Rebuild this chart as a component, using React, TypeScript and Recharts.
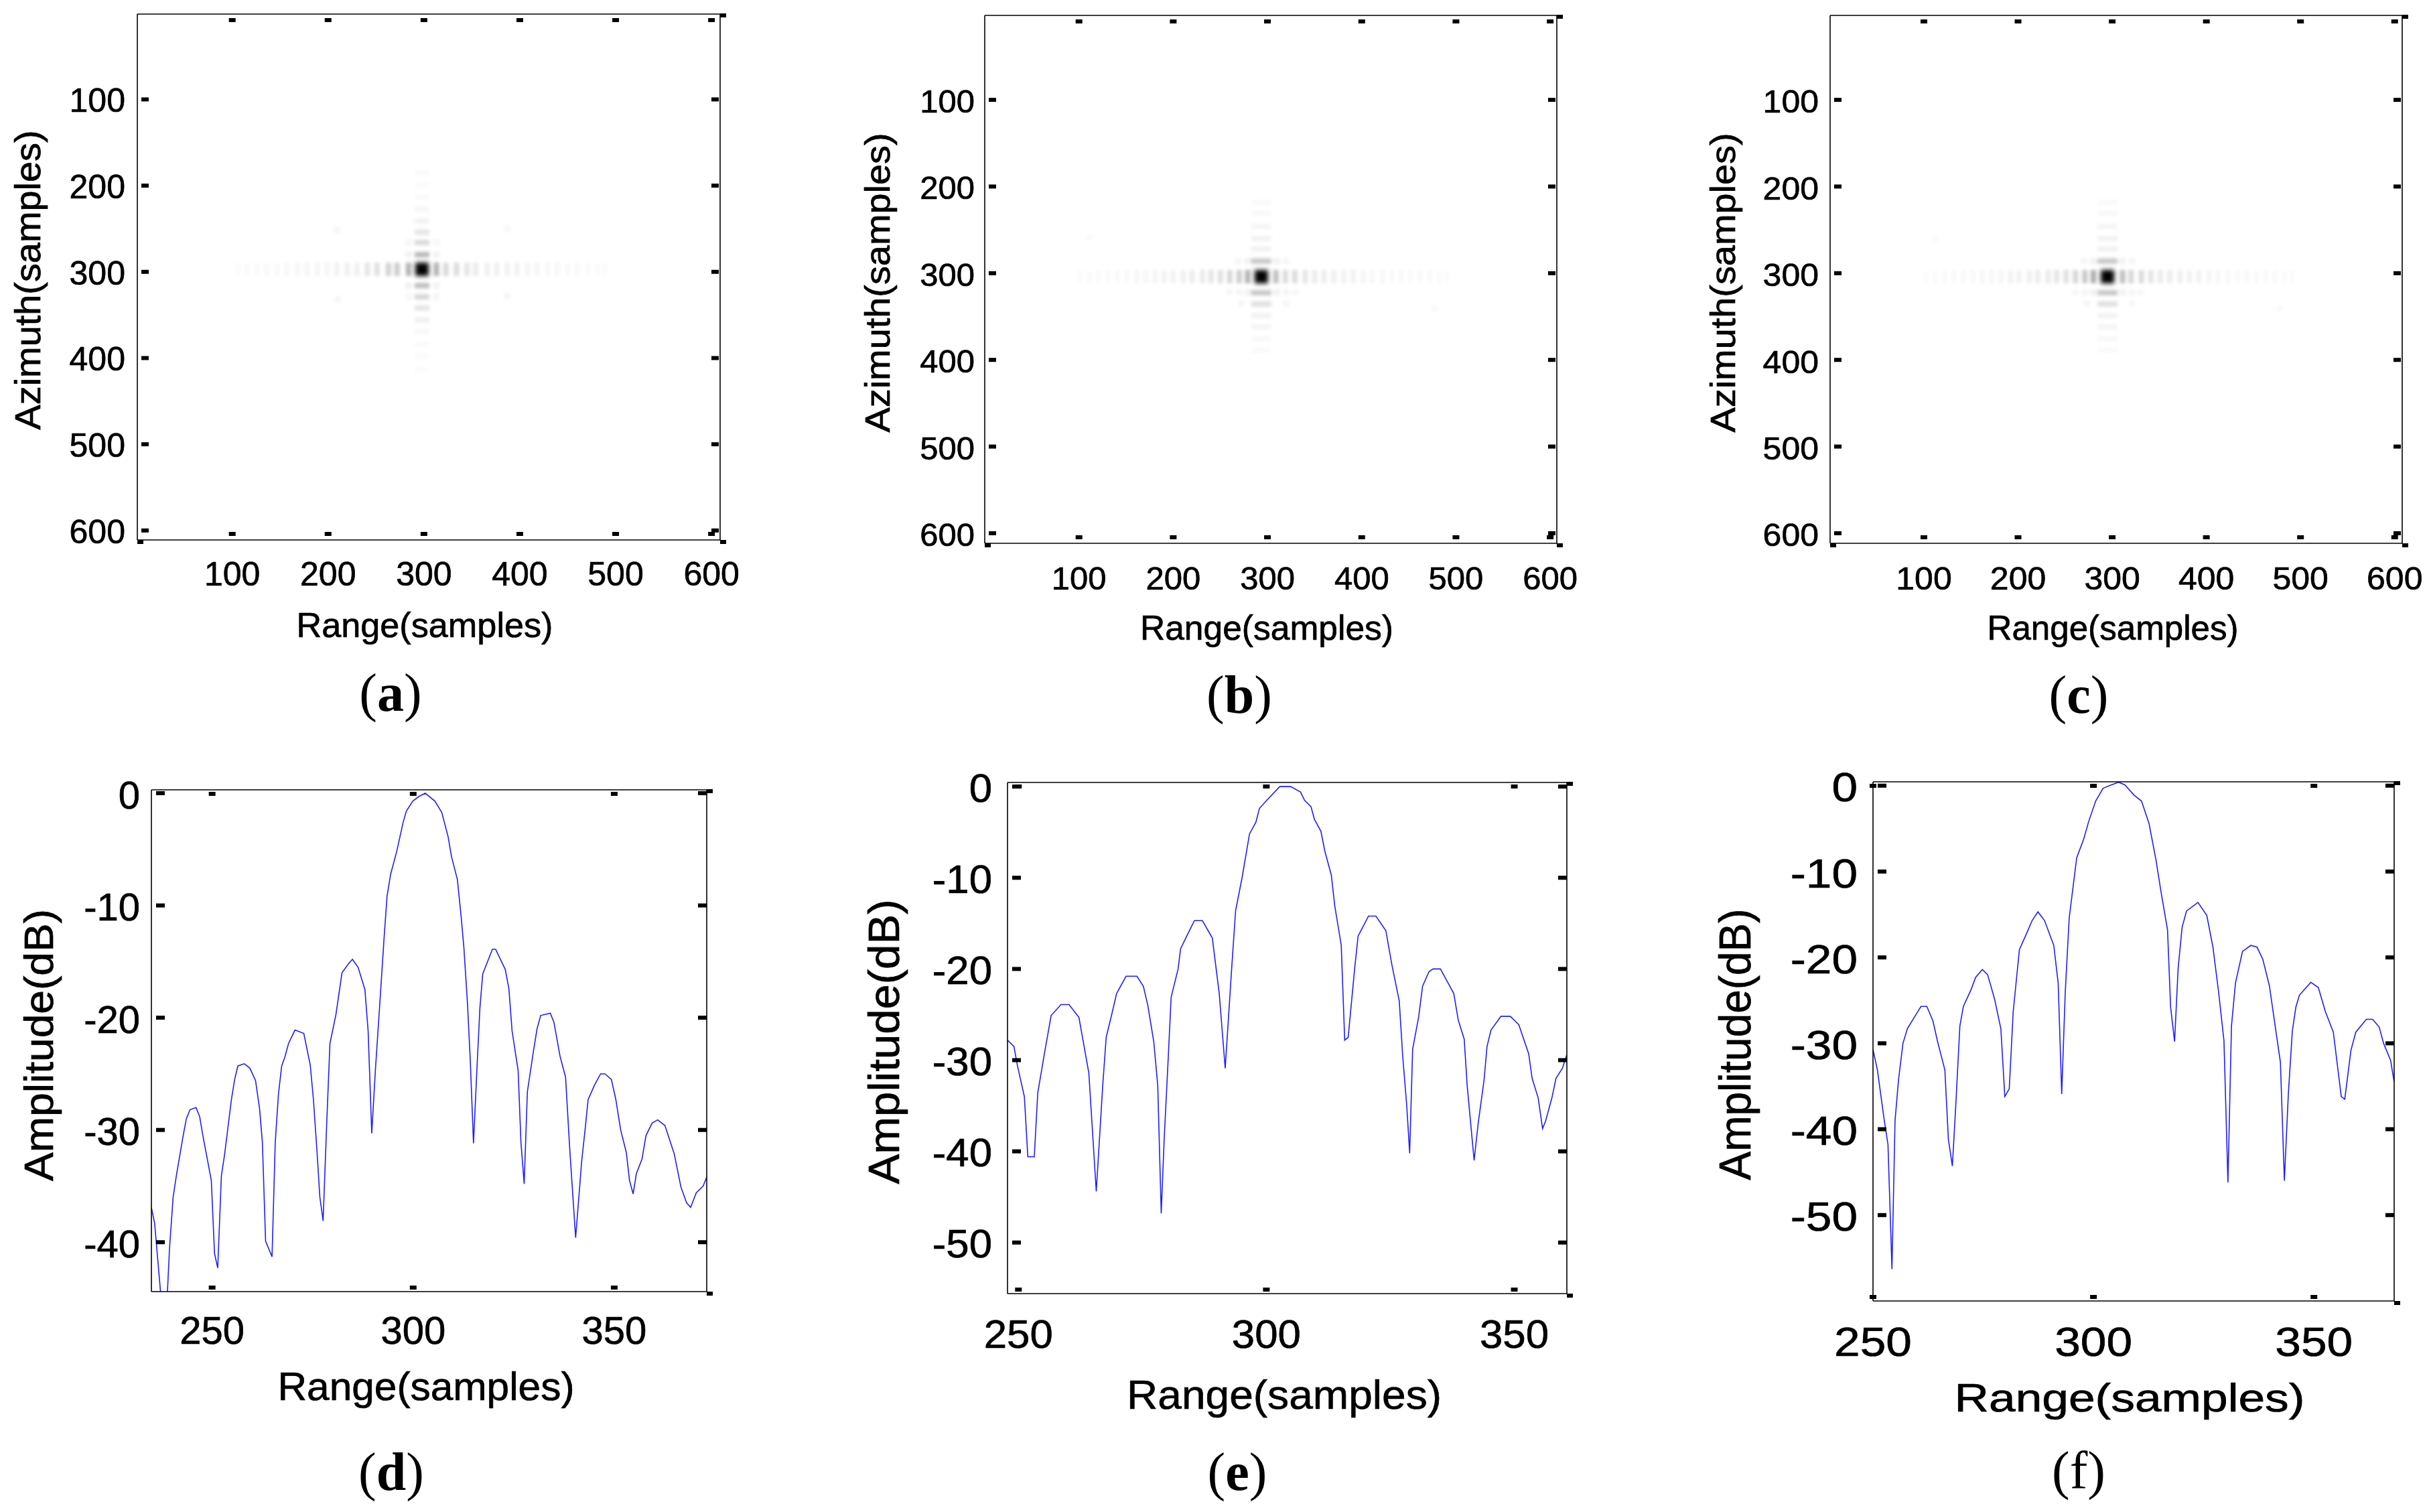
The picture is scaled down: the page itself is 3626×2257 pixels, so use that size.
import { LineChart, Line, ScatterChart, Scatter, XAxis, YAxis } from "recharts";

// --- panel (a) image cells, samples, level = grey darkness 0..1
const centerA = { x: 298, y: 297 };
const rangeLobeXA = [106, 115, 126, 136, 147, 157, 168, 178, 189, 199, 209, 220, 230, 241, 251, 263, 272, 284, 313, 323, 334, 345, 354, 366, 376, 387, 397, 408, 418, 429, 439, 450, 460, 471, 481, 489];
const rangeLobeLevelA = [0.015, 0.02, 0.02, 0.025, 0.025, 0.03, 0.03, 0.035, 0.04, 0.04, 0.05, 0.06, 0.06, 0.1, 0.12, 0.18, 0.2, 0.3, 0.3, 0.15, 0.14, 0.1, 0.08, 0.06, 0.06, 0.05, 0.05, 0.04, 0.035, 0.03, 0.03, 0.025, 0.025, 0.02, 0.02, 0.015];
const azimuthLobeYA = [185, 199, 213, 227, 241, 254, 266, 280, 316, 329, 342, 356, 369, 384, 398, 413];
const azimuthLobeLevelA = [0.015, 0.015, 0.02, 0.035, 0.055, 0.1, 0.15, 0.28, 0.25, 0.16, 0.1, 0.06, 0.03, 0.02, 0.015, 0.015];
const sideXA = [284, 313, 284, 313, 284, 313, 284, 313, 209, 387, 210, 387];
const sideYA = [280, 280, 266, 266, 316, 316, 329, 329, 252, 250, 332, 328];
const sideLevelA = [0.05, 0.05, 0.035, 0.035, 0.05, 0.05, 0.035, 0.035, 0.03, 0.025, 0.035, 0.035];

// --- panel (b)
const centerB = { x: 293.5, y: 304 };
const rangeLobeXB = [101, 111, 121, 131, 141, 151, 161, 171, 181, 190.5, 200, 210.5, 220, 231, 240, 250, 260, 270, 279, 309, 319, 329, 340, 350, 360, 370.5, 381, 391, 401.5, 411, 422, 432, 442, 452, 462, 472, 482, 490];
const rangeLobeLevelB = [0.015, 0.015, 0.02, 0.02, 0.025, 0.025, 0.03, 0.03, 0.04, 0.05, 0.05, 0.06, 0.07, 0.08, 0.1, 0.12, 0.16, 0.2, 0.3, 0.25, 0.14, 0.14, 0.1, 0.08, 0.07, 0.06, 0.05, 0.05, 0.04, 0.03, 0.03, 0.025, 0.025, 0.02, 0.02, 0.02, 0.015, 0.015];
const azimuthLobeYB = [218, 231, 246, 260, 272, 286, 322.5, 335.5, 349, 362, 375.6, 389];
const azimuthLobeLevelB = [0.02, 0.025, 0.04, 0.05, 0.05, 0.22, 0.22, 0.12, 0.05, 0.04, 0.025, 0.02];
const sideXB = [269, 279, 310, 320, 260, 270, 279, 310, 320, 329, 272, 320, 111, 477];
const sideYB = [286, 286, 286, 286, 322, 322, 322, 322, 322, 322, 335, 335, 259, 341];
const sideLevelB = [0.03, 0.05, 0.05, 0.03, 0.03, 0.04, 0.05, 0.05, 0.04, 0.03, 0.03, 0.03, 0.02, 0.02];

// --- panel (c)
const centerC = { x: 295, y: 304 };
const rangeLobeXC = [102, 112, 122, 132, 142, 152, 162, 172, 182, 192, 201, 212, 221, 232, 241, 251, 261, 271, 280, 311, 320, 331, 341, 351, 361, 372, 382, 392, 403, 412, 423, 433, 443, 453, 463, 473, 483, 491];
const rangeLobeLevelC = [0.015, 0.015, 0.02, 0.02, 0.025, 0.025, 0.03, 0.03, 0.04, 0.05, 0.05, 0.06, 0.07, 0.08, 0.1, 0.12, 0.16, 0.22, 0.32, 0.25, 0.16, 0.14, 0.1, 0.08, 0.07, 0.06, 0.05, 0.05, 0.04, 0.03, 0.03, 0.025, 0.025, 0.02, 0.02, 0.02, 0.015, 0.015];
const azimuthLobeYC = [218, 231, 246, 260, 272, 286, 322.5, 335.5, 349, 362, 375.6, 389];
const azimuthLobeLevelC = [0.02, 0.025, 0.04, 0.05, 0.05, 0.22, 0.22, 0.12, 0.05, 0.04, 0.025, 0.02];
const sideXC = [270, 280, 311, 321, 261, 271, 280, 311, 321, 330, 273, 321, 112, 478];
const sideYC = [286, 286, 286, 286, 322, 322, 322, 322, 322, 322, 335, 335, 261, 341];
const sideLevelC = [0.03, 0.05, 0.05, 0.03, 0.03, 0.04, 0.05, 0.05, 0.04, 0.03, 0.03, 0.03, 0.02, 0.02];

// --- range profiles, dB against range sample
const rangeD = [234.9, 235.7, 237.7, 238.6, 239.4, 240.3, 241.1, 241.9, 242.8, 243.6, 244.5, 246, 246.9, 247.7, 248.6, 249.8, 250.6, 251.4, 252.3, 253.1, 254, 254.8, 255.6, 256.4, 258, 259.4, 260.8, 261.8, 262.5, 263.3, 264.9, 265.7, 266.5, 267.3, 268.1, 269, 270.6, 272.8, 274.4, 275.2, 276.1, 276.8, 277.6, 278.5, 279.3, 280.8, 282.3, 283.9, 284.9, 286.3, 288, 288.8, 289.7, 290.6, 291.8, 292.8, 293.5, 294.4, 295.9, 297.5, 298.3, 299.9, 301.4, 303, 305.4, 307.1, 308.7, 309.5, 311, 311.9, 312.6, 313.5, 314.2, 315, 315.9, 316.6, 317.3, 319.7, 320.5, 322.9, 323.8, 324.6, 326.1, 326.8, 327.6, 328.4, 329.9, 330.8, 331.7, 334.1, 335, 336.5, 337.9, 338.9, 340.4, 341.9, 342.8, 343.5, 345.1, 346.6, 347.7, 349.3, 350.4, 351.6, 353, 353.8, 354.7, 355.5, 356.9, 357.9, 359.4, 360.8, 362.6, 364.9, 366.6, 368, 369, 370.4, 372.1, 373];
const ampD = [-36.9, -38.3, -46.6, -46.6, -40.6, -36, -34.1, -32.4, -30.5, -29, -28.2, -28, -28.8, -30.5, -32.2, -34.5, -41, -42.3, -34.1, -32.2, -29.6, -27.3, -25.5, -24.3, -24.1, -24.5, -25.6, -28.1, -31.1, -39.9, -41.3, -31.1, -26.8, -24.3, -23.5, -22.3, -21.1, -21.4, -24.2, -27.3, -32, -36, -38.1, -29.4, -22.3, -19.7, -16, -15.2, -14.8, -15.5, -17.5, -21.2, -30.3, -24.7, -18.2, -12.7, -9.2, -7.2, -5.2, -2.6, -1.6, -0.7, -0.3, 0, -0.7, -1.7, -3.9, -5.6, -7.7, -10.9, -13.7, -18.7, -23.8, -31.2, -24.2, -19.1, -16.1, -13.9, -13.9, -15.7, -17.4, -21.2, -24.7, -31.1, -34.8, -26.6, -23, -21, -19.8, -19.6, -20.4, -23.4, -25.3, -31.5, -39.6, -32.8, -29.8, -27.3, -26, -25, -25, -25.5, -27.3, -30, -32, -34.5, -35.7, -33.9, -32.6, -30.5, -29.4, -29.1, -29.6, -32.1, -35.1, -36.5, -36.9, -35.6, -35, -34.2];

const rangeE = [247.8, 249.1, 249.8, 251.2, 251.9, 253.2, 253.9, 255.3, 256.6, 258.6, 260.2, 262.2, 264.2, 265.7, 267, 267.7, 268.9, 269.8, 271.7, 273.9, 275.2, 276.1, 277.3, 278.1, 278.8, 279.4, 280.2, 280.8, 282.2, 282.7, 284.2, 285.5, 287.1, 289.1, 290.5, 291.7, 293, 293.8, 295.1, 296.6, 297.9, 298.6, 300.1, 302.7, 304.9, 306.9, 307.7, 309, 309.7, 311, 311.8, 313.1, 313.8, 315.1, 315.8, 316.5, 317.8, 318.5, 320.6, 322.1, 324.1, 325.3, 326.8, 327.5, 328.3, 328.9, 329.5, 330.7, 331.5, 332.8, 333.6, 335.1, 336.5, 337.8, 338.7, 339.9, 340.5, 341.3, 341.9, 342.7, 343.9, 344.5, 345.3, 347.3, 349.2, 350.9, 352.9, 353.6, 354.8, 355.7, 356.3, 357.6, 358.4, 359.7, 360.6];
const ampE = [-27.8, -28.5, -30.6, -34, -40.6, -40.6, -33.6, -29.1, -25.1, -23.9, -23.9, -25.3, -31.4, -44.4, -32.8, -27.5, -24.8, -22.7, -20.8, -20.8, -21.9, -24, -28, -32.8, -46.8, -38.6, -29.9, -23.1, -20, -17.8, -16.1, -14.7, -14.7, -16.6, -22.7, -30.9, -20, -13.6, -10, -5.2, -3.9, -2.4, -1.5, 0, 0, -0.6, -1.5, -2.2, -3.6, -4.9, -7.1, -9.7, -13.1, -17.4, -27.8, -27.5, -20, -16.4, -14.2, -14.2, -15.8, -19.5, -23.5, -29.6, -34.9, -40.2, -28.8, -25.3, -21.9, -20.3, -20, -20, -21.4, -22.7, -25.6, -27.7, -32.8, -37.5, -41, -37, -32.2, -28.5, -26.7, -25.2, -25.2, -26.1, -29.3, -32, -34.1, -37.5, -36.7, -34.1, -32, -30.9, -29.4];

const rangeF = [250, 251, 252.4, 253.4, 254.3, 255, 255.8, 256.8, 257.8, 259.8, 260.9, 262.2, 263.6, 264.6, 266.3, 267.1, 268, 268.8, 269.7, 270.5, 272.2, 273.3, 274.8, 276, 277.6, 279, 279.9, 280.9, 281.8, 283.2, 285.1, 286.1, 287.4, 288.9, 291, 292, 292.8, 293.6, 294.5, 296.2, 297.8, 298.9, 300.5, 302.2, 304.1, 305.7, 307.1, 309.2, 310.9, 312.6, 314.2, 315.3, 316.8, 317.5, 318.4, 319.2, 320.1, 321.1, 323.7, 325.7, 327.1, 328.4, 329.6, 330.5, 331.3, 332.2, 333.8, 335.7, 337.1, 338.4, 339.9, 341.3, 342.4, 343.3, 344.2, 345.1, 345.9, 346.7, 349.3, 351, 352.6, 354.4, 356.2, 357, 358.4, 359.5, 361.9, 363.3, 364.8, 365.8, 367.4, 368.2];
const ampF = [-30.7, -33.1, -38.4, -41.8, -56.3, -39, -34.2, -30, -28.3, -26.6, -25.7, -25.7, -27.4, -29.7, -33.1, -41.2, -44.3, -37, -28, -25.7, -23.8, -22.3, -21.4, -22, -24.9, -28.3, -36.2, -35.3, -26.3, -19.1, -16.9, -15.7, -14.7, -15.7, -18.6, -23, -35.9, -24.1, -15.4, -8.4, -6.2, -4.2, -1.8, -0.3, 0.1, 0.4, 0.1, -1.1, -1.8, -4.4, -8.7, -12.3, -16.8, -25.8, -29.8, -21.3, -16.5, -14.6, -13.6, -15.1, -18.8, -24.1, -29.7, -46.2, -28, -23, -19.3, -18.6, -18.8, -20.2, -23.3, -28.3, -32.2, -46, -35.9, -28.6, -25.8, -24.4, -22.9, -23.5, -26.3, -28.7, -36.2, -36.5, -30.8, -28.7, -27.2, -27.2, -28.1, -30, -32, -34.5];

const imageTicks = [100, 200, 300, 400, 500, 600];
const profileRangeTicks = [250, 300, 350];
const ampTicksD = [0, -10, -20, -30, -40];
const ampTicksEF = [0, -10, -20, -30, -40, -50];

const SANS = "'Liberation Sans', Arial, sans-serif";
const SERIF = "'Liberation Serif', 'Times New Roman', serif";
const LINE_BLUE = "#2020f4";
// the reference is a low-res raster blown up, its text reads heavier than the plain font
const TEXT_WEIGHT = { stroke: "#000", strokeWidth: 0.7 };

type Title = { x: number; y: number; len: number; size: number };
interface PanelLayout {
  cell: { x: number; y: number; w: number; h: number };
  plot: { l: number; r: number; t: number; b: number };
  xDomain: [number, number];
  yDomain: [number, number];
  xTicks: number[];
  yTicks: number[];
  reversed: boolean;
  tickSize: number;
  tickStretch: number;
  xTickDy: number;
  yTickGap: number;
  xTitle: Title;
  yTitle: Title & { text: string };
  caption: { letter: string; x: number; y: number; bold: boolean };
  mark: { len: number; thick: number; gapX: number; gapL: number; gapR: number };
}

// axes take 1px each, recharts skips an axis with a zero size
const AXIS_PX = 1;

function Frame({ p }: { p: PanelLayout }) {
  const { plot, mark } = p;
  const tickText = (x: number, y: number, anchor: "middle" | "end", value: number) => (
    <text
      transform={`translate(${x},${y}) scale(${p.tickStretch},1)`}
      textAnchor={anchor}
      dominantBaseline="central"
      fontFamily={SANS}
      fontSize={p.tickSize}
      fill="#000"
      {...TEXT_WEIGHT}
    >
      {value}
    </text>
  );
  const hMark = (x: number, y: number) => <rect x={x} y={y} width={mark.len} height={mark.thick} fill="#000" />;
  const vMark = (x: number, y: number) => <rect x={x} y={y} width={10} height={mark.thick} fill="#000" />;
  const common = { tickLine: false, tickSize: 0, tickMargin: 0, allowDataOverflow: true, interval: 0 as const, type: "number" as const, axisLine: { stroke: "#000", strokeWidth: 1.6 } };
  return (
    <>
      <XAxis
        {...common}
        xAxisId="bottom"
        dataKey="x"
        orientation="bottom"
        height={AXIS_PX}
        domain={p.xDomain}
        ticks={p.xTicks}
        tick={(t: any) => (
          <g>
            {vMark(t.x - 5, plot.t - p.cell.y + mark.gapX)}
            {vMark(t.x - 5, plot.b - p.cell.y - mark.gapX - mark.thick)}
            {tickText(t.x, plot.b - p.cell.y + p.xTickDy, "middle", t.payload.value)}
          </g>
        )}
      />
      <XAxis {...common} xAxisId="top" orientation="top" height={AXIS_PX} domain={p.xDomain} tick={false} />
      <YAxis
        {...common}
        yAxisId="left"
        dataKey="y"
        orientation="left"
        width={AXIS_PX}
        reversed={p.reversed}
        domain={p.yDomain}
        ticks={p.yTicks}
        tick={(t: any) => (
          <g>
            {hMark(plot.l - p.cell.x + mark.gapL, t.y - mark.thick / 2)}
            {tickText(plot.l - p.cell.x - p.yTickGap, t.y + 2, "end", t.payload.value)}
          </g>
        )}
      />
      <YAxis
        {...common}
        yAxisId="right"
        orientation="right"
        width={AXIS_PX}
        reversed={p.reversed}
        domain={p.yDomain}
        ticks={p.yTicks}
        tick={(t: any) => <g>{hMark(plot.r - p.cell.x - mark.gapR - mark.len, t.y - mark.thick / 2)}</g>}
      />
    </>
  );
}

function Annotations({ p }: { p: PanelLayout }) {
  const ox = p.cell.x;
  const oy = p.cell.y;
  const { plot, xTitle, yTitle, caption } = p;
  return (
    <>
      <rect x={plot.r - ox} y={plot.t - oy - 1} width={9} height={6} fill="#000" />
      <rect x={plot.r - ox} y={plot.b - oy} width={9} height={6} fill="#000" />
      {p.reversed && <rect x={plot.l - ox} y={plot.b - oy} width={9} height={6} fill="#000" />}
      <text
        x={xTitle.x - ox}
        y={xTitle.y - oy}
        textAnchor="middle"
        dominantBaseline="central"
        fontFamily={SANS}
        fontSize={xTitle.size}
        textLength={xTitle.len}
        lengthAdjust="spacingAndGlyphs"
        fill="#000"
        {...TEXT_WEIGHT}
      >
        Range(samples)
      </text>
      <text
        transform={`translate(${yTitle.x - ox},${yTitle.y - oy}) rotate(-90)`}
        textAnchor="middle"
        dominantBaseline="central"
        fontFamily={SANS}
        fontSize={yTitle.size}
        textLength={yTitle.len}
        lengthAdjust="spacingAndGlyphs"
        fill="#000"
        {...TEXT_WEIGHT}
      >
        {yTitle.text}
      </text>
      <text x={caption.x - ox} y={caption.y - oy} textAnchor="middle" fontFamily={SERIF} fontSize={80} fill="#000">
        (<tspan fontWeight={caption.bold ? 700 : 400}>{caption.letter}</tspan>)
      </text>
    </>
  );
}

const chartProps = (p: PanelLayout) => ({
  width: p.cell.w,
  height: p.cell.h,
  margin: {
    left: p.plot.l - p.cell.x - AXIS_PX,
    top: p.plot.t - p.cell.y - AXIS_PX,
    right: p.cell.x + p.cell.w - p.plot.r - AXIS_PX,
    bottom: p.cell.y + p.cell.h - p.plot.b - AXIS_PX,
  },
  style: { position: "absolute" as const, left: p.cell.x, top: p.cell.y },
});

interface ImageData {
  center: { x: number; y: number };
  rangeX: number[];
  rangeLevel: number[];
  azimuthY: number[];
  azimuthLevel: number[];
  sideX: number[];
  sideY: number[];
  sideLevel: number[];
  azimuthHalfWidth: number;
}

function ImagePanel({ p, d }: { p: PanelLayout; d: ImageData }) {
  const rangeCells = d.rangeX.map((x, i) => ({ x, y: d.center.y, level: d.rangeLevel[i] }));
  const azimuthCells = d.azimuthY.map((y, i) => ({ x: d.center.x, y, level: d.azimuthLevel[i] }));
  const sideCells = d.sideX.map((x, i) => ({ x, y: d.sideY[i], level: d.sideLevel[i] }));
  const blob = (hw: number, hh: number, filter: string) => (s: any) => (
    <rect x={s.cx - hw} y={s.cy - hh} width={hw * 2} height={hh * 2} fill="#000" opacity={s.payload.level} filter={filter} />
  );
  return (
    <ScatterChart {...chartProps(p)}>
      <defs>
        <filter id="lobeSoft" x="-150%" y="-150%" width="400%" height="400%">
          <feGaussianBlur stdDeviation={2.5} />
        </filter>
        <filter id="coreSoft" x="-100%" y="-100%" width="300%" height="300%">
          <feGaussianBlur stdDeviation={3.5} />
        </filter>
      </defs>
      <Frame p={p} />
      <Scatter xAxisId="bottom" yAxisId="left" data={sideCells} shape={blob(5, 5, "url(#lobeSoft)")} isAnimationActive={false} />
      <Scatter xAxisId="bottom" yAxisId="left" data={rangeCells} shape={blob(4, 10, "url(#lobeSoft)")} isAnimationActive={false} />
      <Scatter xAxisId="bottom" yAxisId="left" data={azimuthCells} shape={blob(d.azimuthHalfWidth, 4, "url(#lobeSoft)")} isAnimationActive={false} />
      <Scatter xAxisId="bottom" yAxisId="left" data={[{ ...d.center, level: 1 }]} shape={blob(10, 10, "url(#coreSoft)")} isAnimationActive={false} />
      <Annotations p={p} />
    </ScatterChart>
  );
}

function ProfilePanel({ p, range, amp }: { p: PanelLayout; range: number[]; amp: number[] }) {
  const rows = range.map((x, i) => ({ x, y: amp[i] }));
  return (
    <LineChart {...chartProps(p)} data={rows}>
      <Frame p={p} />
      <Line
        xAxisId="bottom"
        yAxisId="left"
        dataKey="y"
        type="linear"
        stroke={LINE_BLUE}
        strokeWidth={1.6}
        dot={false}
        activeDot={false}
        isAnimationActive={false}
      />
      <Annotations p={p} />
    </LineChart>
  );
}

const imageMark = { len: 11, thick: 6, gapX: 6, gapL: 6, gapR: 2 };
const profileMark = { len: 13, thick: 6, gapX: 3, gapL: 7, gapR: 0 };

const panelA: PanelLayout = {
  cell: { x: 0, y: 0, w: 1240, h: 1120 },
  plot: { l: 205, r: 1075, t: 21, b: 806 },
  xDomain: [1, 609],
  yDomain: [1, 611],
  xTicks: imageTicks,
  yTicks: imageTicks,
  reversed: true,
  tickSize: 50,
  tickStretch: 1,
  xTickDy: 51,
  yTickGap: 18,
  xTitle: { x: 634, y: 933, len: 383, size: 52 },
  yTitle: { x: 41, y: 418, len: 447, size: 54, text: "Azimuth(samples)" },
  caption: { letter: "a", x: 583, y: 1061, bold: true },
  mark: imageMark,
};
const panelB: PanelLayout = {
  cell: { x: 1240, y: 0, w: 1240, h: 1120 },
  plot: { l: 1470, r: 2324, t: 23, b: 811 },
  xDomain: [0, 607],
  yDomain: [2.6, 611.6],
  xTicks: imageTicks,
  yTicks: imageTicks,
  reversed: true,
  tickSize: 49,
  tickStretch: 1,
  xTickDy: 52,
  yTickGap: 15,
  xTitle: { x: 1891, y: 937, len: 378, size: 52 },
  yTitle: { x: 1310, y: 422, len: 447, size: 52, text: "Azimuth(samples)" },
  caption: { letter: "b", x: 1850, y: 1064, bold: true },
  mark: imageMark,
};
const panelC: PanelLayout = {
  cell: { x: 2480, y: 0, w: 1146, h: 1120 },
  plot: { l: 2732, r: 3586, t: 23, b: 811 },
  xDomain: [0.4, 608],
  yDomain: [2.6, 611.6],
  xTicks: imageTicks,
  yTicks: imageTicks,
  reversed: true,
  tickSize: 49,
  tickStretch: 1.02,
  xTickDy: 52,
  yTickGap: 17,
  xTitle: { x: 3154, y: 937, len: 375, size: 52 },
  yTitle: { x: 2572, y: 422, len: 447, size: 52, text: "Azimuth(samples)" },
  caption: { letter: "c", x: 3103, y: 1064, bold: true },
  mark: imageMark,
};
const panelD: PanelLayout = {
  cell: { x: 0, y: 1120, w: 1240, h: 1137 },
  plot: { l: 226, r: 1055, t: 1179, b: 1928 },
  xDomain: [234.9, 373],
  yDomain: [-44.4, 0.3],
  xTicks: profileRangeTicks,
  yTicks: ampTicksD,
  reversed: false,
  tickSize: 58,
  tickStretch: 1,
  xTickDy: 57,
  yTickGap: 17,
  xTitle: { x: 636, y: 2069, len: 443, size: 60 },
  yTitle: { x: 57, y: 1560, len: 406, size: 62, text: "Amplitude(dB)" },
  caption: { letter: "d", x: 584, y: 2224, bold: true },
  mark: profileMark,
};
const panelE: PanelLayout = {
  cell: { x: 1240, y: 1120, w: 1240, h: 1137 },
  plot: { l: 1504, r: 2339, t: 1168, b: 1931 },
  xDomain: [247.8, 360.6],
  yDomain: [-55.6, 0.45],
  xTicks: profileRangeTicks,
  yTicks: ampTicksEF,
  reversed: false,
  tickSize: 60,
  tickStretch: 1.03,
  xTickDy: 60,
  yTickGap: 23,
  xTitle: { x: 1917, y: 2081, len: 470, size: 62 },
  yTitle: { x: 1320, y: 1555, len: 425, size: 64, text: "Amplitude(dB)" },
  caption: { letter: "e", x: 1847, y: 2224, bold: true },
  mark: profileMark,
};
const panelF: PanelLayout = {
  cell: { x: 2480, y: 1120, w: 1146, h: 1137 },
  plot: { l: 2796, r: 3574, t: 1167, b: 1942 },
  xDomain: [250, 368.2],
  yDomain: [-60, 0.45],
  xTicks: profileRangeTicks,
  yTicks: ampTicksEF,
  reversed: false,
  tickSize: 62,
  tickStretch: 1.12,
  xTickDy: 60,
  yTickGap: 23,
  xTitle: { x: 3179, y: 2086, len: 523, size: 60 },
  yTitle: { x: 2590, y: 1559, len: 405, size: 66, text: "Amplitude(dB)" },
  caption: { letter: "f", x: 3103, y: 2222, bold: false },
  mark: profileMark,
};

const imageA: ImageData = { center: centerA, rangeX: rangeLobeXA, rangeLevel: rangeLobeLevelA, azimuthY: azimuthLobeYA, azimuthLevel: azimuthLobeLevelA, sideX: sideXA, sideY: sideYA, sideLevel: sideLevelA, azimuthHalfWidth: 11 };
const imageB: ImageData = { center: centerB, rangeX: rangeLobeXB, rangeLevel: rangeLobeLevelB, azimuthY: azimuthLobeYB, azimuthLevel: azimuthLobeLevelB, sideX: sideXB, sideY: sideYB, sideLevel: sideLevelB, azimuthHalfWidth: 15 };
const imageC: ImageData = { center: centerC, rangeX: rangeLobeXC, rangeLevel: rangeLobeLevelC, azimuthY: azimuthLobeYC, azimuthLevel: azimuthLobeLevelC, sideX: sideXC, sideY: sideYC, sideLevel: sideLevelC, azimuthHalfWidth: 15 };

export default function App() {
  return (
    <div style={{ position: "absolute", left: 0, top: 0, width: 3626, height: 2257, background: "#fff", overflow: "hidden" }}>
      <ImagePanel p={panelA} d={imageA} />
      <ImagePanel p={panelB} d={imageB} />
      <ImagePanel p={panelC} d={imageC} />
      <ProfilePanel p={panelD} range={rangeD} amp={ampD} />
      <ProfilePanel p={panelE} range={rangeE} amp={ampE} />
      <ProfilePanel p={panelF} range={rangeF} amp={ampF} />
    </div>
  );
}
